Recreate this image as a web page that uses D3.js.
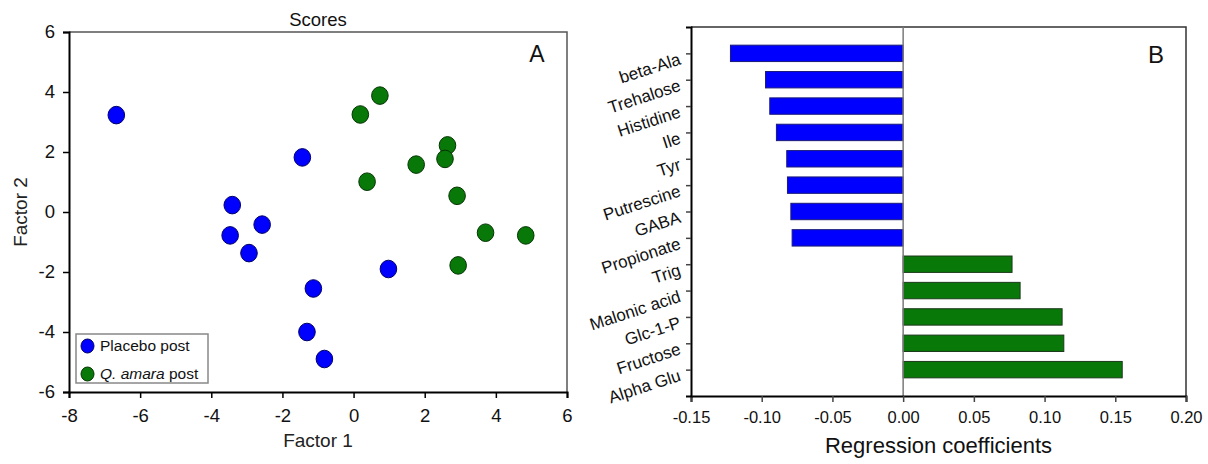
<!DOCTYPE html>
<html>
<head>
<meta charset="utf-8">
<script src="https://cdn.jsdelivr.net/npm/d3@7"></script>
<style>
  body { margin: 0; background: #fff; }
  svg { font-family: "Liberation Sans", Arial, sans-serif; }
</style>
</head>
<body>
<div id="chart"></div>
<script>
// scores plot (panel A)
const placeboX = [-6.67, -1.44, -3.41, -2.57, -3.47, -2.94, 0.98, -1.13, -1.31, -0.82];
const placeboY = [3.23, 1.82, 0.23, -0.42, -0.78, -1.37, -1.90, -2.55, -4.00, -4.90];
const amaraX = [0.74, 0.19, 2.64, 2.57, 1.76, 0.38, 2.91, 3.71, 4.84, 2.94];
const amaraY = [3.88, 3.25, 2.22, 1.77, 1.58, 1.01, 0.54, -0.69, -0.78, -1.78];
const scoreTicksX = [-8, -6, -4, -2, 0, 2, 4, 6];
const scoreTicksY = [-6, -4, -2, 0, 2, 4, 6];

// regression coefficients (panel B)
const metabolites = ["beta-Ala", "Trehalose", "Histidine", "Ile", "Tyr", "Putrescine", "GABA",
  "Propionate", "Trig", "Malonic acid", "Glc-1-P", "Fructose", "Alpha Glu"];
const coefs = [-0.1221, -0.0973, -0.0943, -0.0896, -0.0823, -0.0818, -0.0794,
  -0.0785, 0.0770, 0.0827, 0.1124, 0.1136, 0.1549];
const coefTicks = [-0.15, -0.10, -0.05, 0.00, 0.05, 0.10, 0.15, 0.20];

const blue = "#0000ff", green = "#087808";

const width = 1208, height = 464;
const svg = d3.select("#chart").append("svg")
  .attr("width", width).attr("height", height);

// ---------- panel A ----------
const x = d3.scaleLinear().domain([-8, 6]).range([69, 567]);
const y = d3.scaleLinear().domain([-6, 6]).range([392, 32]);

const gA = svg.append("g");

// top/right frame
gA.append("path")
  .attr("d", `M${x(-8)},${y(6)}H${x(6)}V${y(-6)}`)
  .attr("fill", "none").attr("stroke", "#555").attr("stroke-width", 1.5);

const axB = gA.append("g")
  .attr("transform", `translate(0,${y(-6)})`)
  .call(d3.axisBottom(x).tickValues(scoreTicksX).tickSize(6).tickPadding(11).tickFormat(d3.format("d")));
const axL = gA.append("g")
  .attr("transform", `translate(${x(-8)},0)`)
  .call(d3.axisLeft(y).tickValues(scoreTicksY).tickSize(6).tickPadding(8).tickFormat(d3.format("d")));
[axB, axL].forEach(a => {
  a.select(".domain").attr("stroke", "#000").attr("stroke-width", 2);
  a.selectAll(".tick line").attr("stroke", "#000").attr("stroke-width", 1.5);
  a.selectAll("text").attr("font-size", 18.5).attr("fill", "#111").attr("font-family", null)
    .text(d => d3.format("d")(d).replace("−", "-"));
});

const pts = placeboX.map((v, i) => ({ x: v, y: placeboY[i], c: blue, s: "#00006a" }))
  .concat(amaraX.map((v, i) => ({ x: v, y: amaraY[i], c: green, s: "#033403" })));
gA.selectAll("ellipse.pt").data(pts).join("ellipse")
  .attr("class", "pt")
  .attr("cx", d => x(d.x)).attr("cy", d => y(d.y))
  .attr("rx", 8.3).attr("ry", 8.8)
  .attr("fill", d => d.c).attr("stroke", d => d.s).attr("stroke-width", 1);

gA.append("text").attr("x", (x(-8) + x(6)) / 2).attr("y", 26)
  .attr("text-anchor", "middle").attr("font-size", 18.5).attr("fill", "#111").text("Scores");
gA.append("text").attr("x", 537).attr("y", 62)
  .attr("text-anchor", "middle").attr("font-size", 23).attr("fill", "#111").text("A");
gA.append("text").attr("x", (x(-8) + x(6)) / 2).attr("y", 447)
  .attr("text-anchor", "middle").attr("font-size", 19).attr("fill", "#222").text("Factor 1");
gA.append("text").attr("transform", `translate(27,${y(0)}) rotate(-90)`)
  .attr("text-anchor", "middle").attr("font-size", 19).attr("fill", "#222").text("Factor 2");

// legend
const leg = gA.append("g").attr("transform", "translate(76,334)");
leg.append("rect").attr("width", 132).attr("height", 49)
  .attr("fill", "#fff").attr("stroke", "#888").attr("stroke-width", 1.5);
leg.append("ellipse").attr("cx", 11.5).attr("cy", 12).attr("rx", 6.5).attr("ry", 7)
  .attr("fill", blue).attr("stroke", "#00006a");
leg.append("ellipse").attr("cx", 11.5).attr("cy", 40).attr("rx", 6.5).attr("ry", 7)
  .attr("fill", green).attr("stroke", "#033403");
leg.append("text").attr("x", 24).attr("y", 17).attr("font-size", 15.5).attr("fill", "#111")
  .text("Placebo post");
const t2 = leg.append("text").attr("x", 24).attr("y", 45).attr("font-size", 15.5).attr("fill", "#111");
t2.append("tspan").attr("font-style", "italic").text("Q. amara");
t2.append("tspan").text(" post");

// ---------- panel B ----------
const bx = d3.scaleLinear().domain([-0.15, 0.20]).range([691, 1186]);
const by = d3.scalePoint().domain(metabolites).range([27, 396]).padding(1);
const barH = 16.4;

const gB = svg.append("g");
gB.append("path")
  .attr("d", `M${bx(-0.15)},27H${bx(0.20)}V396`)
  .attr("fill", "none").attr("stroke", "#333").attr("stroke-width", 1.5);

gB.selectAll("rect.bar").data(metabolites).join("rect")
  .attr("class", "bar")
  .attr("x", (d, i) => bx(Math.min(0, coefs[i])))
  .attr("y", d => by(d) - barH / 2)
  .attr("width", (d, i) => Math.abs(bx(coefs[i]) - bx(0)))
  .attr("height", barH)
  .attr("fill", (d, i) => coefs[i] < 0 ? blue : green)
  .attr("stroke", (d, i) => coefs[i] < 0 ? "#1a1a7a" : "#1c3a1c").attr("stroke-width", 1);

gB.append("line").attr("x1", bx(0)).attr("x2", bx(0)).attr("y1", 27).attr("y2", 396)
  .attr("stroke", "#7a7a7a").attr("stroke-width", 1.5);

const bAxB = gB.append("g").attr("transform", "translate(0,396)")
  .call(d3.axisBottom(bx).tickValues(coefTicks).tickSize(6).tickPadding(9).tickFormat(d3.format(".2f")));
const bAxL = gB.append("g").attr("transform", `translate(${bx(-0.15)},0)`)
  .call(d3.axisLeft(by).tickSize(5).tickFormat(""));
[bAxB, bAxL].forEach(a => {
  a.select(".domain").attr("stroke", "#000").attr("stroke-width", 2);
  a.selectAll(".tick line").attr("stroke", "#444").attr("stroke-width", 1.5);
});
bAxB.selectAll("text").attr("font-size", 16.5).attr("fill", "#111").attr("font-family", null)
  .text(d => d3.format(".2f")(d).replace("−", "-"));

gB.selectAll("text.cat").data(metabolites).join("text")
  .attr("class", "cat")
  .attr("transform", d => `translate(${bx(-0.15) - 11},${by(d) + 5}) rotate(-18)`)
  .attr("text-anchor", "end").attr("dy", "0.35em")
  .attr("font-size", 17).attr("fill", "#111").text(d => d);

gB.append("text").attr("x", 1156).attr("y", 63)
  .attr("text-anchor", "middle").attr("font-size", 24).attr("fill", "#111").text("B");
gB.append("text").attr("x", (bx(-0.15) + bx(0.20)) / 2).attr("y", 453)
  .attr("text-anchor", "middle").attr("font-size", 22).attr("fill", "#111").text("Regression coefficients");
</script>
</body>
</html>
